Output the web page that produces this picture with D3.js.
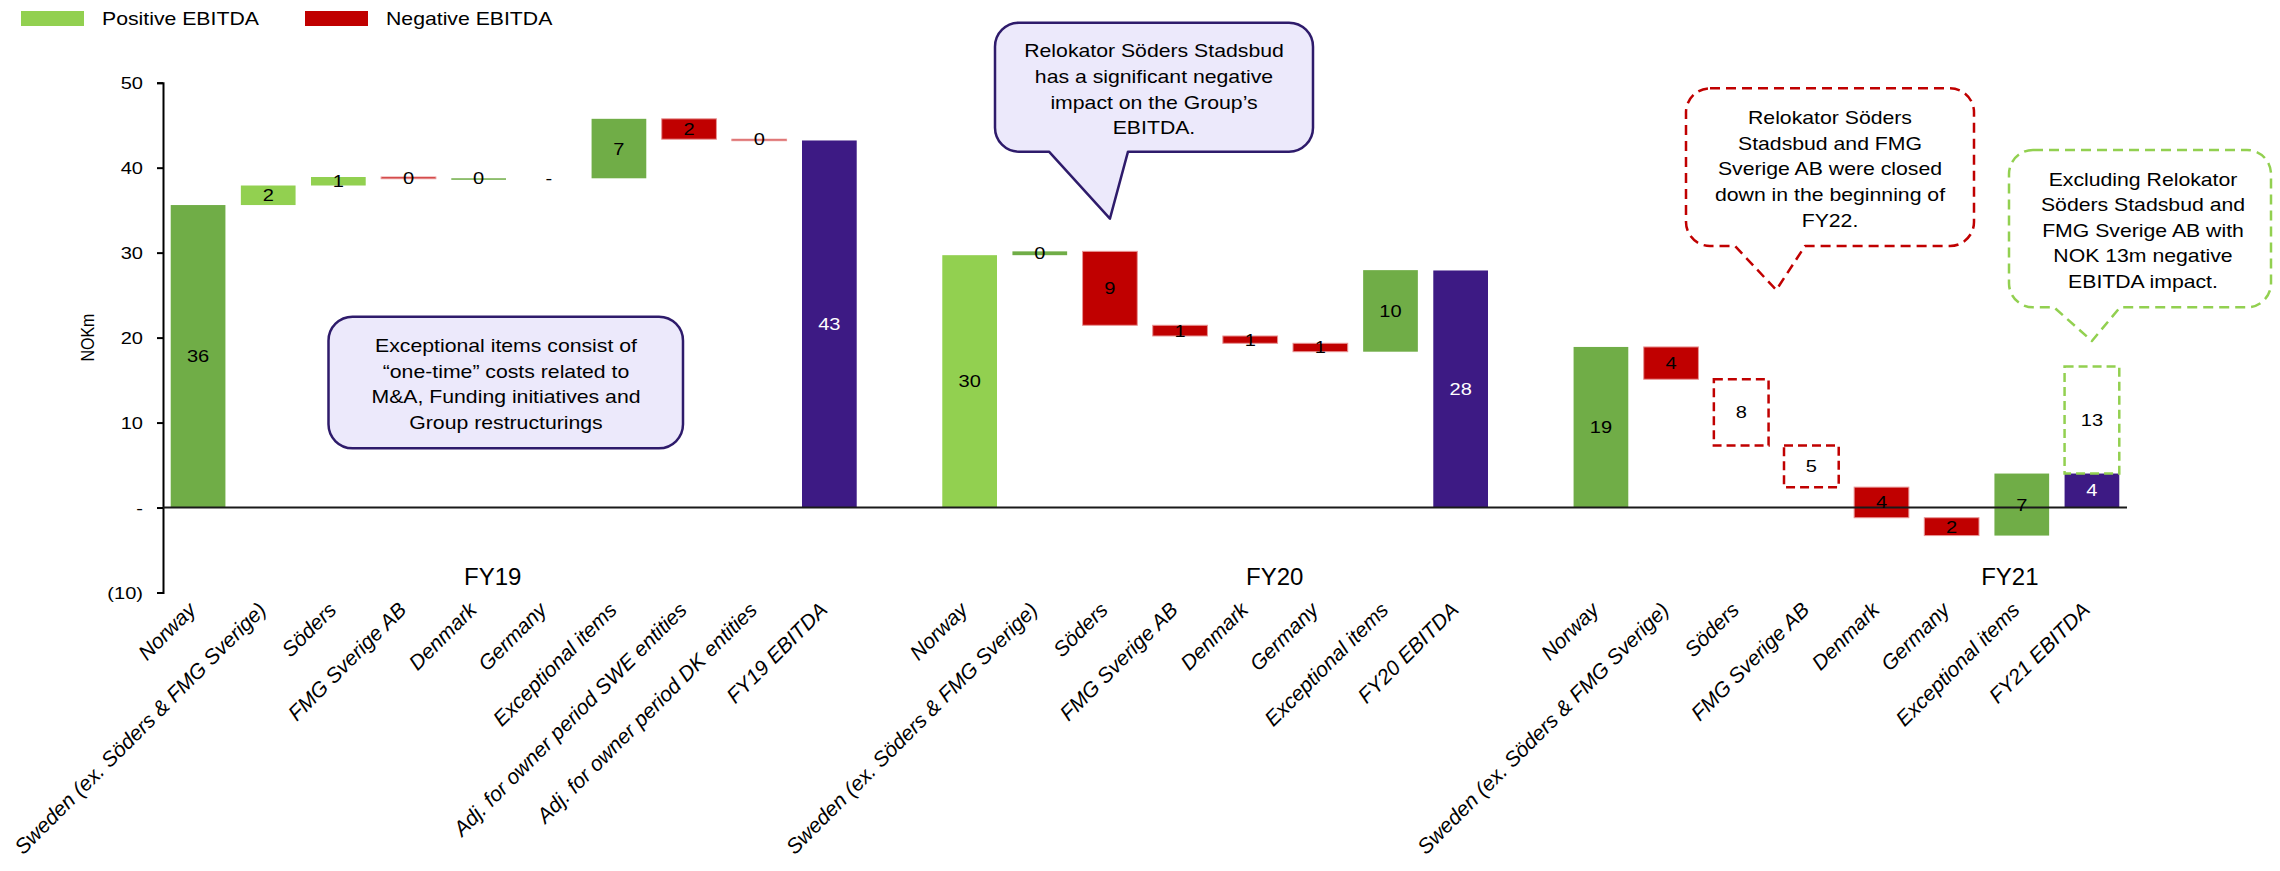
<!DOCTYPE html>
<html>
<head>
<meta charset="utf-8">
<script src="https://cdn.jsdelivr.net/npm/d3@7"></script>
<style>
  body { margin: 0; background: #fff; }
  svg text { font-family: "Liberation Sans", Arial, sans-serif; fill: #000; }
</style>
</head>
<body>
<svg id="chart" width="2280" height="871"></svg>
<script>
// Data (NOKm)
const fy19Categories = ["Norway", "Sweden (ex. Söders & FMG Sverige)", "Söders", "FMG Sverige AB", "Denmark",
  "Germany", "Exceptional items", "Adj. for owner period SWE entities", "Adj. for owner period DK entities", "FY19 EBITDA"];
const fy19Values = [35.6, 2.3, 1.0, -0.2, 0.05, 0, 7.0, -2.4, -0.05, 43.2];
const fy19Labels = ["36", "2", "1", "0", "0", "-", "7", "2", "0", "43"];
const fy19Styles = ["dg", "lg", "lg", "red", "dg", "none", "dg", "red", "red", "total"];

const fy20Categories = ["Norway", "Sweden (ex. Söders & FMG Sverige)", "Söders", "FMG Sverige AB", "Denmark",
  "Germany", "Exceptional items", "FY20 EBITDA"];
const fy20Values = [29.7, 0.45, -8.7, -1.26, -0.86, -0.99, 9.6, 27.9];
const fy20Labels = ["30", "0", "9", "1", "1", "1", "10", "28"];
const fy20Styles = ["lg", "dg", "red", "red", "red", "red", "dg", "total"];

const fy21Categories = ["Norway", "Sweden (ex. Söders & FMG Sverige)", "Söders", "FMG Sverige AB", "Denmark",
  "Germany", "Exceptional items", "FY21 EBITDA"];
const fy21Values = [18.9, -3.8, -7.8, -4.9, -3.6, -2.1, 7.3, 4.0];
const fy21Labels = ["19", "4", "8", "5", "4", "2", "7", "4"];
const fy21Styles = ["dg", "red", "dashRed", "dashRed", "red", "red", "dg", "total"];

// FY21 EBITDA excluding the two closed Swedish entities
const fy21ExcludedImpact = 12.6;
const fy21ExcludedLabel = "13";

const yTicks = [-10, 0, 10, 20, 30, 40, 50];
const legendItems = ["Positive EBITDA", "Negative EBITDA"];

// Constants
const width = 2280;
const height = 871;
const SX = 1.18; // the source picture is stretched sideways, text follows it
const colors = {
  dg: "#70AD47", lg: "#92D050", red: "#C00000", total: "#3D1A84",
  note: "#ECE9FB", noteStroke: "#2E1B6B"
};

const svg = d3.select("#chart");

function buildRows(group, cats, values, labels, styles) {
  let run = 0;
  return cats.map((c, i) => {
    const v = values[i];
    let start, end;
    if (i === 0 || i === cats.length - 1) { start = 0; end = v; }
    else { start = run; end = run + v; }
    run = end;
    return { key: group + "|" + c, cat: c, group, start, end, label: labels[i], style: styles[i] };
  });
}

const rows19 = buildRows("FY19", fy19Categories, fy19Values, fy19Labels, fy19Styles);
const rows20 = buildRows("FY20", fy20Categories, fy20Values, fy20Labels, fy20Styles);
const rows21 = buildRows("FY21", fy21Categories, fy21Values, fy21Labels, fy21Styles);
const rows = rows19.concat(rows20, rows21);

const keys = rows19.map(d => d.key).concat(["gap1"], rows20.map(d => d.key), ["gap2"], rows21.map(d => d.key));

// Scales
const x = d3.scaleBand()
  .domain(keys)
  .range([163, 2127])
  .paddingInner(0.22)
  .paddingOuter(0.11);
const cx = k => x(k) + x.bandwidth() / 2;

const y = d3.scaleLinear()
  .domain([-10, 50])
  .range([592.5, 82.7]);

// Legend
const legend = svg.append("g");
legendItems.forEach((t, i) => {
  const lx = i === 0 ? 21 : 305;
  legend.append("rect")
    .attr("x", lx).attr("y", 11).attr("width", 63).attr("height", 15)
    .attr("fill", i === 0 ? colors.lg : colors.red);
  legend.append("text")
    .attr("transform", `translate(${lx + 81},25) scale(${SX},1)`)
    .style("font-size", "18px")
    .text(t);
});

// Y axis
const yAxis = d3.axisLeft(y)
  .tickValues(yTicks)
  .tickSize(6)
  .tickSizeOuter(6)
  .tickFormat(v => v < 0 ? `(${-v})` : v === 0 ? "-" : v);

svg.append("g")
  .attr("transform", `translate(${x.range()[0]},0)`)
  .attr("font-family", null)
  .attr("font-size", null)
  .call(yAxis)
  .call(g => g.select(".domain").attr("stroke", "#000").attr("stroke-width", 2))
  .call(g => g.selectAll(".tick line").attr("stroke", "#000").attr("stroke-width", 2))
  .call(g => g.selectAll(".tick text")
    .attr("x", null)
    .attr("dy", "0.35em")
    .attr("transform", `translate(-20,0) scale(${SX},1)`)
    .style("font-size", "17px"));

svg.append("text")
  .attr("transform", `translate(94,${y(20)}) scale(${SX},1) rotate(-90)`)
  .attr("text-anchor", "middle")
  .style("font-size", "16px")
  .text("NOKm");

// Bars
const bars = svg.append("g");
const solid = rows.filter(d => d.style !== "none");

bars.selectAll("rect")
  .data(solid)
  .enter()
  .append("rect")
  .attr("x", d => x(d.key))
  .attr("width", x.bandwidth())
  .attr("y", d => y(Math.max(d.start, d.end)))
  .attr("height", d => Math.max(Math.abs(y(d.start) - y(d.end)), 1.5))
  .attr("fill", d => d.style === "dashRed" ? "none" : colors[d.style])
  .attr("stroke", d => d.style === "red" ? "#E89494" : d.style === "dashRed" ? colors.red : "none")
  .attr("stroke-width", d => d.style === "dashRed" ? 2.5 : 1)
  .attr("stroke-dasharray", d => d.style === "dashRed" ? "9,5" : null);

// dashed top-up on FY21 EBITDA
const fy21Total = rows21[rows21.length - 1];
bars.append("rect")
  .attr("x", x(fy21Total.key))
  .attr("width", x.bandwidth())
  .attr("y", y(fy21Total.end + fy21ExcludedImpact))
  .attr("height", y(fy21Total.end) - y(fy21Total.end + fy21ExcludedImpact))
  .attr("fill", "none")
  .attr("stroke", colors.lg)
  .attr("stroke-width", 2.5)
  .attr("stroke-dasharray", "9,5");

// Zero line
svg.append("line")
  .attr("x1", x.range()[0]).attr("x2", x.range()[1])
  .attr("y1", y(0)).attr("y2", y(0))
  .attr("stroke", "#1a1a1a")
  .attr("stroke-width", 2);

// Value labels
svg.append("g").selectAll("text")
  .data(rows)
  .enter()
  .append("text")
  .attr("text-anchor", "middle")
  .attr("dy", "0.35em")
  .attr("transform", d => `translate(${cx(d.key)},${y((d.start + d.end) / 2)}) scale(${SX},1)`)
  .style("font-size", "17px")
  .style("fill", d => d.style === "total" ? "#fff" : "#000")
  .text(d => d.label);

svg.append("text")
  .attr("text-anchor", "middle")
  .attr("dy", "0.35em")
  .attr("transform", `translate(${cx(fy21Total.key)},${y(fy21Total.end + fy21ExcludedImpact / 2)}) scale(${SX},1)`)
  .style("font-size", "17px")
  .text(fy21ExcludedLabel);

// Category labels
const xAxis = d3.axisBottom(x)
  .tickSize(0)
  .tickFormat(k => k.startsWith("gap") ? "" : k.split("|")[1]);

svg.append("g")
  .attr("transform", "translate(0,606)")
  .attr("font-family", null)
  .attr("font-size", null)
  .call(xAxis)
  .call(g => g.select(".domain").remove())
  .call(g => g.selectAll(".tick text")
    .attr("y", null)
    .attr("dy", "0.35em")
    .attr("text-anchor", "end")
    .attr("transform", "translate(-6,0) rotate(-45)")
    .style("font-style", "italic")
    .style("font-size", "21px"));

// Year labels
const yearLabels = [["FY19", "FY19|Denmark", 0.2], ["FY20", "FY20|Denmark", 0.35], ["FY21", "FY21|Exceptional items", -0.17]];
svg.append("g").selectAll("text")
  .data(yearLabels)
  .enter()
  .append("text")
  .attr("x", d => cx(d[1]) + d[2] * x.step())
  .attr("y", 585)
  .attr("text-anchor", "middle")
  .style("font-size", "24px")
  .text(d => d[0]);

// Notes and callouts
function bubble(b) {
  const p = d3.path();
  p.moveTo(b.x0 + b.r, b.y0);
  p.lineTo(b.x1 - b.r, b.y0);
  p.arcTo(b.x1, b.y0, b.x1, b.y0 + b.r, b.r);
  p.lineTo(b.x1, b.y1 - b.r);
  p.arcTo(b.x1, b.y1, b.x1 - b.r, b.y1, b.r);
  if (b.tip) {
    p.lineTo(b.br, b.y1);
    p.lineTo(b.tip[0], b.tip[1]);
    p.lineTo(b.bl, b.y1);
  }
  p.lineTo(b.x0 + b.r, b.y1);
  p.arcTo(b.x0, b.y1, b.x0, b.y1 - b.r, b.r);
  p.lineTo(b.x0, b.y0 + b.r);
  p.arcTo(b.x0, b.y0, b.x0 + b.r, b.y0, b.r);
  p.closePath();
  return p.toString();
}

const notes = [
  {
    x0: 328.5, y0: 316.7, x1: 683, y1: 448.3, r: 24,
    fill: colors.note, stroke: colors.noteStroke, dash: null,
    tx: 506, ty: 352, lh: 25.5,
    lines: ["Exceptional items consist of", "\u201Cone-time\u201D costs related to", "M&A, Funding initiatives and", "Group restructurings"]
  },
  {
    x0: 995, y0: 22.7, x1: 1313, y1: 151.7, r: 24, bl: 1049, br: 1128,
    tip: [cx("FY20|Söders"), y(34)],
    fill: colors.note, stroke: colors.noteStroke, dash: null,
    tx: 1154, ty: 57.3, lh: 25.6,
    lines: ["Relokator Söders Stadsbud", "has a significant negative", "impact on the Group\u2019s", "EBITDA."]
  },
  {
    x0: 1686, y0: 88.3, x1: 1974, y1: 246, r: 24, bl: 1735, br: 1805,
    tip: [(cx("FY21|Söders") + cx("FY21|FMG Sverige AB")) / 2, y(25.6)],
    fill: "#fff", stroke: colors.red, dash: "10,6",
    tx: 1830, ty: 124, lh: 25.7,
    lines: ["Relokator Söders", "Stadsbud and FMG", "Sverige AB were closed", "down in the beginning of", "FY22."]
  },
  {
    x0: 2009, y0: 150, x1: 2271, y1: 307.3, r: 24, bl: 2054, br: 2120,
    tip: [cx("FY21|FY21 EBITDA"), y(19.6)],
    fill: "#fff", stroke: colors.lg, dash: "10,6",
    tx: 2143, ty: 186, lh: 25.4,
    lines: ["Excluding Relokator", "Söders Stadsbud and", "FMG Sverige AB with", "NOK 13m negative", "EBITDA impact."]
  }
];

notes.forEach(n => {
  svg.append("path")
    .attr("d", bubble(n))
    .attr("fill", n.fill)
    .attr("stroke", n.stroke)
    .attr("stroke-width", 2.5)
    .attr("stroke-dasharray", n.dash)
    .attr("stroke-linejoin", "round");
  n.lines.forEach((t, i) => {
    svg.append("text")
      .attr("text-anchor", "middle")
      .attr("transform", `translate(${n.tx},${n.ty + i * n.lh}) scale(${SX},1)`)
      .style("font-size", "18px")
      .text(t);
  });
});
</script>
</body>
</html>
